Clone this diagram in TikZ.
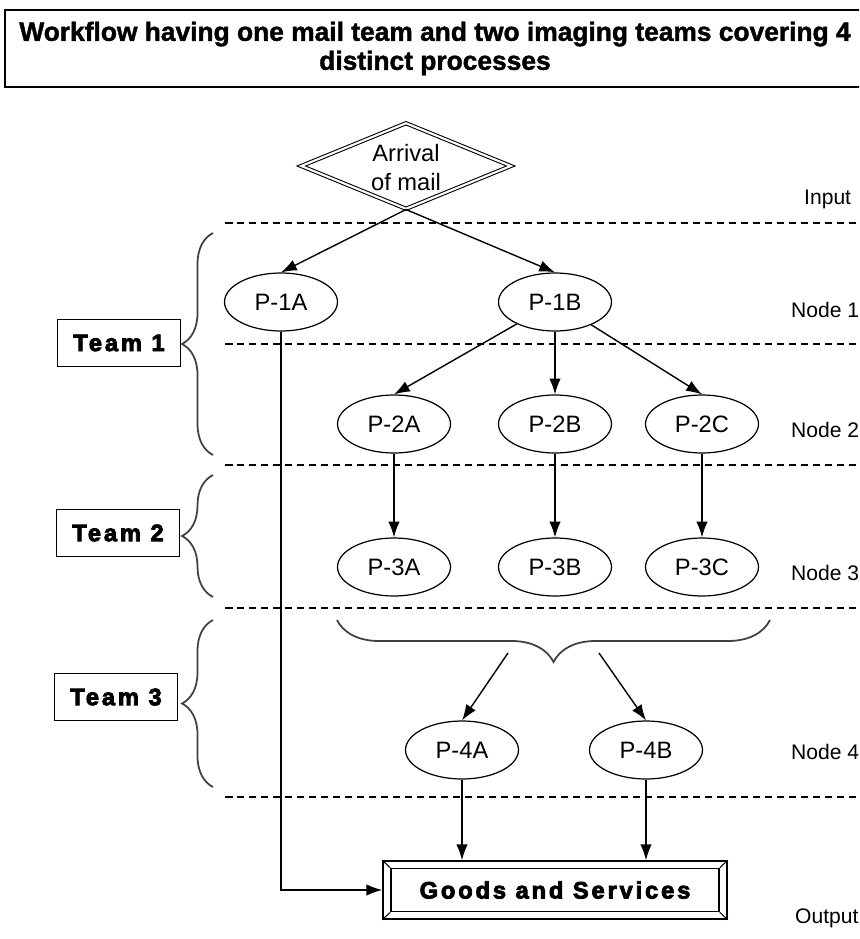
\documentclass[tikz,border=0pt]{standalone}
\usepackage{fontspec}
\setmainfont{Liberation Sans}
\newfontfamily\heavyfont[LetterSpace=12,FakeBold=3.5]{Liberation Sans Bold}
\newfontfamily\titlefont[FakeBold=1.5]{Liberation Sans Bold}
\usetikzlibrary{shapes.geometric,arrows.meta,decorations.pathreplacing}

\begin{document}
\begin{tikzpicture}[x=0.02cm,y=-0.02cm,
  proc/.style={draw,ellipse,line width=0.7pt,minimum width=2.26cm,minimum height=1.16cm,inner sep=0pt,font=\fontsize{13.5}{16}\selectfont},
  team/.style={draw,line width=0.9pt,minimum width=2.46cm,minimum height=0.94cm,inner sep=0pt,font=\fontsize{13.5}{15}\heavyfont},
  level/.style={anchor=west,font=\fontsize{12}{14}\selectfont},
  sep/.style={dash pattern=on 0.15cm off 0.09cm,line width=0.6pt},
  flow/.style={-{Latex[length=9pt,width=6.5pt]},line width=0.8pt},
  grp/.style={decorate,decoration={brace,amplitude=0.62cm},line width=1pt,black!75}]
    \clip (0,0) rectangle (859,939);
    % title
    \node[draw,line width=0.8pt,minimum width=17.2cm,minimum height=1.54cm,align=center,
      font=\fontsize{15}{16.5}\titlefont] (title) at (435,48.5)
      {Workflow having one mail team and two imaging teams covering 4\\distinct processes};
    % input
    \node[draw,diamond,double,double distance=1.2pt,line width=0.6pt,minimum width=4.2cm,minimum height=1.72cm,inner sep=0pt] (mail) at (406,166) {};
    \node[align=center,font=\fontsize{13.5}{16.5}\selectfont] (mailtext) at (406,168) {Arrival\\of mail};
    % levels
    \draw[sep] (225,223) -- (859,223);
    \draw[sep] (225,344) -- (859,344);
    \draw[sep] (225,465) -- (859,465);
    \draw[sep] (225,608) -- (859,608);
    \draw[sep] (225,797) -- (859,797);
    \node[level] (lin) at (798,199) {Input};
    \node[level] (l1) at (785,310) {Node 1};
    \node[level] (l2) at (785,430) {Node 2};
    \node[level] (l3) at (785,573) {Node 3};
    \node[level] (l4) at (785,752) {Node 4};
    \node[level] (lout) at (789,918) {Output};
    % processes
    \node[proc] (p1a) at (281,302) {P-1A};
    \node[proc] (p1b) at (555,302) {P-1B};
    \node[proc] (p2a) at (394,424) {P-2A};
    \node[proc] (p2b) at (555,424) {P-2B};
    \node[proc] (p2c) at (702,424) {P-2C};
    \node[proc] (p3a) at (394,567) {P-3A};
    \node[proc] (p3b) at (555,567) {P-3B};
    \node[proc] (p3c) at (702,567) {P-3C};
    \node[proc] (p4a) at (462,750) {P-4A};
    \node[proc] (p4b) at (646,750) {P-4B};
    % output
    \node[draw,line width=0.9pt,minimum width=6.88cm,minimum height=1.16cm,inner sep=0pt] (goods) at (555,890) {};
    \node[draw,line width=0.9pt,minimum width=6.56cm,minimum height=0.86cm,inner sep=0pt,
      font=\fontsize{13.5}{15}\heavyfont] (goodsin) at (555,890) {Goods and Services};
    \draw[line width=0.6pt] (goods.north west) -- (goodsin.north west);
    \draw[line width=0.6pt] (goods.north east) -- (goodsin.north east);
    \draw[line width=0.6pt] (goods.south west) -- (goodsin.south west);
    \draw[line width=0.6pt] (goods.south east) -- (goodsin.south east);
    % teams
    \node[team] (t1) at (119,343) {Team 1};
    \node[team] (t2) at (118,533) {Team 2};
    \node[team] (t3) at (116,697) {Team 3};
    \draw[grp] (213,455) -- (213,233);
    \draw[grp] (213,597) -- (213,475);
    \draw[grp] (213,787) -- (213,620);
    \draw[grp,decoration={brace,amplitude=0.84cm}] (770,620) -- (337,620);
    \coordinate (s4a) at (508,653);
    \coordinate (s4b) at (599,653);
    % flow
    \draw[flow] (mail.south) -- (p1a.north);
    \draw[flow] (mail.south) -- (p1b.north);
    \draw[flow] (p1b) -- (p2a.north);
    \draw[flow] (p1b) -- (p2b);
    \draw[flow] (p1b) -- (p2c.north);
    \draw[flow] (p2a) -- (p3a);
    \draw[flow] (p2b) -- (p3b);
    \draw[flow] (p2c) -- (p3c);
    \draw[flow] (s4a) -- (p4a.north);
    \draw[flow] (s4b) -- (p4b.north);
    \draw[flow] (p4a) -- (p4a |- goods.north);
    \draw[flow] (p4b) -- (p4b |- goods.north);
    \draw[flow] (p1a) |- (goods.west);
\end{tikzpicture}
\end{document}
